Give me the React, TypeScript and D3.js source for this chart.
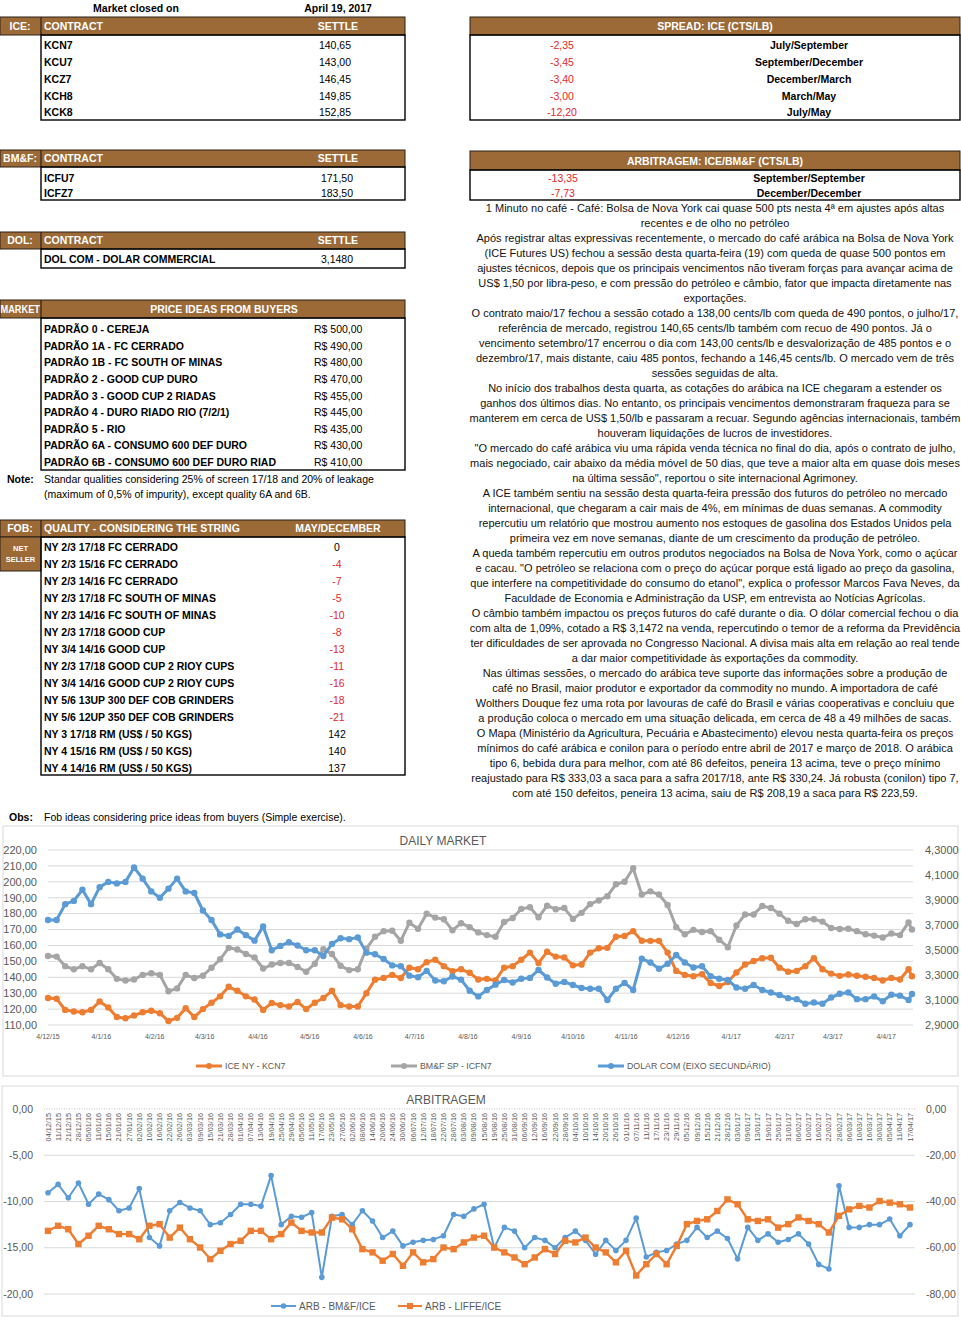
import React from "react";
import * as d3 from "d3";

const FONT = "'Liberation Sans', Arial, Helvetica, sans-serif";
const BROWN = "#9B6A37";
const RED = "#E3262B";
const AXIS_TXT = "#595959";
const GRID = "#D9D9D9";
const ORANGE = "#ED7D31";
const GRAY = "#A5A5A5";
const BLUE = "#5B9BD5";

const br = d3.formatLocale({ decimal: ",", thousands: ".", grouping: [3], currency: ["R$ ", ""], minus: "-" });
const parse = d3.utcParse("%Y-%m-%d");
const fmtDay = d3.utcFormat("%-d/%-m/%y");

// ---------- tables ----------
const iceContracts = ["KCN7", "KCU7", "KCZ7", "KCH8", "KCK8"];
const iceSettle = ["140,65", "143,00", "146,45", "149,85", "152,85"];
const spreadValues = ["-2,35", "-3,45", "-3,40", "-3,00", "-12,20"];
const spreadLabels = ["July/September", "September/December", "December/March", "March/May", "July/May"];
const bmfContracts = ["ICFU7", "ICFZ7"];
const bmfSettle = ["171,50", "183,50"];
const arbTableValues = ["-13,35", "-7,73"];
const arbTableLabels = ["September/September", "December/December"];
const dolContracts = ["DOL COM - DOLAR COMMERCIAL"];
const dolSettle = ["3,1480"];
const priceQualities = [
  "PADRÃO 0 - CEREJA",
  "PADRÃO 1A - FC CERRADO",
  "PADRÃO 1B - FC SOUTH OF MINAS",
  "PADRÃO 2 - GOOD CUP DURO",
  "PADRÃO 3 - GOOD CUP 2 RIADAS",
  "PADRÃO 4 - DURO RIADO RIO (7/2/1)",
  "PADRÃO 5 - RIO",
  "PADRÃO 6A - CONSUMO 600 DEF DURO",
  "PADRÃO 6B - CONSUMO 600 DEF DURO RIAD",
];
const priceValues = [500, 490, 480, 470, 455, 445, 435, 430, 410];
const fobQualities = [
  "NY 2/3 17/18 FC CERRADO",
  "NY 2/3 15/16 FC CERRADO",
  "NY 2/3 14/16 FC CERRADO",
  "NY 2/3 17/18 FC SOUTH OF MINAS",
  "NY 2/3 14/16 FC SOUTH OF MINAS",
  "NY 2/3 17/18 GOOD CUP",
  "NY 3/4 14/16 GOOD CUP",
  "NY 2/3 17/18 GOOD CUP 2 RIOY CUPS",
  "NY 3/4 14/16 GOOD CUP 2 RIOY CUPS",
  "NY 5/6 13UP 300 DEF COB GRINDERS",
  "NY 5/6 12UP 350 DEF COB GRINDERS",
  "NY 3 17/18 RM (US$ / 50 KGS)",
  "NY 4 15/16 RM (US$ / 50 KGS)",
  "NY 4 14/16 RM (US$ / 50 KGS)",
];
const fobValues = [0, -4, -7, -5, -10, -8, -13, -11, -16, -18, -21, 142, 140, 137];

const newsLines = [
  "1 Minuto no café - Café: Bolsa de Nova York cai quase 500 pts nesta 4ª em ajustes após altas",
  "recentes e de olho no petróleo",
  "Após registrar altas expressivas recentemente, o mercado do café arábica na Bolsa de Nova York",
  "(ICE Futures US) fechou a sessão desta quarta-feira (19) com queda de quase 500 pontos em",
  "ajustes técnicos, depois que os principais vencimentos não tiveram forças para avançar acima de",
  "US$ 1,50 por libra-peso, e com pressão do petróleo e câmbio, fator que impacta diretamente nas",
  "exportações.",
  "O contrato maio/17 fechou a sessão cotado a 138,00 cents/lb com queda de 490 pontos, o julho/17,",
  "referência de mercado, registrou 140,65 cents/lb também com recuo de 490 pontos. Já o",
  "vencimento setembro/17 encerrou o dia com 143,00 cents/lb e desvalorização de 485 pontos e o",
  "dezembro/17, mais distante, caiu 485 pontos, fechando a 146,45 cents/lb. O mercado vem de três",
  "sessões seguidas de alta.",
  "No início dos trabalhos desta quarta, as cotações do arábica na ICE chegaram a estender os",
  "ganhos dos últimos dias. No entanto, os principais vencimentos demonstraram fraqueza para se",
  "manterem em cerca de US$ 1,50/lb e passaram a recuar. Segundo agências internacionais, também",
  "houveram liquidações de lucros de investidores.",
  "\"O mercado do café arábica viu uma rápida venda técnica no final do dia, após o contrato de julho,",
  "mais negociado, cair abaixo da média móvel de 50 dias, que teve a maior alta em quase dois meses",
  "na última sessão\", reportou o site internacional Agrimoney.",
  "A ICE também sentiu na sessão desta quarta-feira pressão dos futuros do petróleo no mercado",
  "internacional, que chegaram a cair mais de 4%, em mínimas de duas semanas. A commodity",
  "repercutiu um relatório que mostrou aumento nos estoques de gasolina dos Estados Unidos pela",
  "primeira vez em nove semanas, diante de um crescimento da produção de petróleo.",
  "A queda também repercutiu em outros produtos negociados na Bolsa de Nova York, como o açúcar",
  "e cacau. \"O petróleo se relaciona com o preço do açúcar porque está ligado ao preço da gasolina,",
  "que interfere na competitividade do consumo do etanol\", explica o professor Marcos Fava Neves, da",
  "Faculdade de Economia e Administração da USP, em entrevista ao Notícias Agrícolas.",
  "O câmbio também impactou os preços futuros do café durante o dia. O dólar comercial fechou o dia",
  "com alta de 1,09%, cotado a R$ 3,1472 na venda, repercutindo o temor de a reforma da Previdência",
  "ter dificuldades de ser aprovada no Congresso Nacional. A divisa mais alta em relação ao real tende",
  "a dar maior competitividade às exportações da commodity.",
  "Nas últimas sessões, o mercado do arábica teve suporte das informações sobre a produção de",
  "café no Brasil, maior produtor e exportador da commodity no mundo. A importadora de café",
  "Wolthers Douque fez uma rota por lavouras de café do Brasil e várias cooperativas e concluiu que",
  "a produção coloca o mercado em uma situação delicada, em cerca de 48 a 49 milhões de sacas.",
  "O Mapa (Ministério da Agricultura, Pecuária e Abastecimento) elevou nesta quarta-feira os preços",
  "mínimos do café arábica e conilon para o período entre abril de 2017 e março de 2018. O arábica",
  "tipo 6, bebida dura para melhor, com até 86 defeitos, peneira 13 acima, teve o preço mínimo",
  "reajustado para R$ 333,03 a saca para a safra 2017/18, ante R$ 330,24. Já robusta (conilon) tipo 7,",
  "com até 150 defeitos, peneira 13 acima, saiu de R$ 208,19 a saca para R$ 223,59.",
];

// ---------- daily market ----------
const dailyDates = [
  "2015-12-04", "2015-12-09", "2015-12-14", "2015-12-19", "2015-12-24", "2015-12-29", "2016-01-03", "2016-01-08", "2016-01-13", "2016-01-18",
  "2016-01-23", "2016-01-28", "2016-02-02", "2016-02-07", "2016-02-12", "2016-02-17", "2016-02-22", "2016-02-27", "2016-03-03", "2016-03-08",
  "2016-03-13", "2016-03-18", "2016-03-23", "2016-03-28", "2016-04-02", "2016-04-07", "2016-04-12", "2016-04-17", "2016-04-22", "2016-04-27",
  "2016-05-02", "2016-05-07", "2016-05-12", "2016-05-17", "2016-05-22", "2016-05-27", "2016-06-01", "2016-06-06", "2016-06-11", "2016-06-16",
  "2016-06-21", "2016-06-26", "2016-07-01", "2016-07-06", "2016-07-11", "2016-07-16", "2016-07-21", "2016-07-26", "2016-07-31", "2016-08-05",
  "2016-08-10", "2016-08-15", "2016-08-20", "2016-08-25", "2016-08-30", "2016-09-04", "2016-09-09", "2016-09-14", "2016-09-19", "2016-09-24",
  "2016-09-29", "2016-10-04", "2016-10-09", "2016-10-14", "2016-10-19", "2016-10-24", "2016-10-29", "2016-11-03", "2016-11-08", "2016-11-13",
  "2016-11-18", "2016-11-23", "2016-11-28", "2016-12-03", "2016-12-08", "2016-12-13", "2016-12-18", "2016-12-23", "2016-12-28", "2017-01-02",
  "2017-01-07", "2017-01-12", "2017-01-17", "2017-01-22", "2017-01-27", "2017-02-01", "2017-02-06", "2017-02-11", "2017-02-16", "2017-02-21",
  "2017-02-26", "2017-03-03", "2017-03-08", "2017-03-13", "2017-03-18", "2017-03-23", "2017-03-28", "2017-04-02", "2017-04-07", "2017-04-12",
  "2017-04-17", "2017-04-19",
];
const iceNy = [
  127, 126.5, 119.5, 118.5, 118, 119.5, 124.8, 121, 115, 114.2,
  116, 118, 119, 117.4, 112.5, 114.5, 120.5, 115, 120, 124,
  128, 134, 131.5, 128, 126, 119.5, 123.8, 122.5, 121.6, 124.5,
  120, 124, 127, 131.5, 122.5, 121.6, 121.6, 130, 138.5, 139.6,
  141.5, 139.5, 146, 145, 149.5, 151, 147, 143.8, 145, 142.8,
  138.6, 139, 138, 146, 147, 151, 155.5, 149, 156, 153,
  152.5, 147.5, 148, 155.5, 158.2, 158.5, 165.5, 166, 169, 163,
  162.9, 162.9, 155.5, 144, 141.5, 140.7, 142, 136.4, 134.5, 137,
  143, 148, 150.2, 152, 152.3, 146, 143.5, 144, 147, 152,
  145, 142.3, 140.9, 141.7, 141, 140.3, 139.6, 138, 139.6, 138.6,
  145, 140.65,
];
const bmfSp = [
  153.4, 153, 147, 145, 147, 145, 149, 145, 139, 138,
  138.6, 141.5, 142.5, 141.5, 131.2, 133, 141.5, 139.5, 141, 146,
  151.3, 158.5, 157.5, 154.6, 152.5, 145.5, 148, 149, 149, 146.5,
  143.5, 148.5, 157.6, 154.6, 147.2, 144.5, 145, 158, 165.5, 169,
  169.2, 163, 174.3, 170.5, 180, 177.5, 176.5, 169.5, 174, 171.5,
  168.2, 166.5, 165.5, 174.7, 177.3, 183, 184, 177.7, 185, 182.8,
  183.5, 176.7, 180.5, 186, 188.3, 191, 198.5, 200, 208.5, 192,
  194, 192, 185.4, 171.5, 167, 169.8, 168.5, 169, 163.6, 158.9,
  172.5, 179.5, 179.5, 184.8, 183.5, 180, 175.5, 173.5, 176.5, 176.5,
  175, 171, 170.3, 170.5, 169, 167, 166.2, 165, 167.5, 166.5,
  174.5, 170,
];
const dolarCom = [
  3.74, 3.74, 3.867, 3.893, 3.982, 3.867, 4.003, 4.045, 4.033, 4.045,
  4.16, 4.071, 3.969, 3.918, 3.991, 4.071, 3.969, 3.956, 3.816, 3.74,
  3.625, 3.613, 3.664, 3.619, 3.575, 3.689, 3.498, 3.533, 3.562, 3.536,
  3.498, 3.498, 3.452, 3.549, 3.594, 3.587, 3.6, 3.479, 3.466, 3.428,
  3.377, 3.371, 3.295, 3.282, 3.333, 3.256, 3.25, 3.288, 3.263, 3.174,
  3.129, 3.18, 3.223, 3.26, 3.24, 3.27, 3.277, 3.34, 3.28, 3.23,
  3.245, 3.22, 3.196, 3.19, 3.19, 3.1, 3.19, 3.237, 3.18, 3.43,
  3.4, 3.35, 3.39, 3.46, 3.4, 3.36, 3.37, 3.29, 3.27, 3.26,
  3.2, 3.19, 3.22, 3.18, 3.16, 3.14, 3.115, 3.107, 3.07, 3.08,
  3.07, 3.12, 3.15, 3.16, 3.107, 3.107, 3.129, 3.09, 3.142, 3.135,
  3.1, 3.148,
];
const dailyTicks = [
  "2015-12-04", "2016-01-04", "2016-02-04", "2016-03-04", "2016-04-04", "2016-05-04", "2016-06-04", "2016-07-04", "2016-08-04",
  "2016-09-04", "2016-10-04", "2016-11-04", "2016-12-04", "2017-01-04", "2017-02-04", "2017-03-04", "2017-04-04",
];
const dailyLeftTicks = [110, 120, 130, 140, 150, 160, 170, 180, 190, 200, 210, 220];
const dailyRightTicks = [2.9, 3.1, 3.3, 3.5, 3.7, 3.9, 4.1, 4.3];

// ---------- arbitragem ----------
const arbDates = [
  "04/12/15", "11/12/15", "21/12/15", "28/12/15", "05/01/16", "11/01/16", "15/01/16", "21/01/16", "27/01/16", "02/02/16",
  "10/02/16", "16/02/16", "22/02/16", "26/02/16", "03/03/16", "09/03/16", "15/03/16", "21/03/16", "28/03/16", "01/04/16",
  "07/04/16", "13/04/16", "19/04/16", "25/04/16", "29/04/16", "05/05/16", "11/05/16", "17/05/16", "23/05/16", "27/05/16",
  "02/06/16", "08/06/16", "14/06/16", "20/06/16", "24/06/16", "30/06/16", "06/07/16", "12/07/16", "18/07/16", "22/07/16",
  "28/07/16", "03/08/16", "09/08/16", "15/08/16", "19/08/16", "25/08/16", "31/08/16", "06/09/16", "12/09/16", "16/09/16",
  "22/09/16", "28/09/16", "04/10/16", "10/10/16", "14/10/16", "20/10/16", "26/10/16", "01/11/16", "07/11/16", "11/11/16",
  "17/11/16", "23/11/16", "29/11/16", "05/12/16", "09/12/16", "15/12/16", "21/12/16", "28/12/16", "03/01/17", "09/01/17",
  "13/01/17", "19/01/17", "25/01/17", "31/01/17", "06/02/17", "10/02/17", "16/02/17", "22/02/17", "28/02/17", "06/03/17",
  "10/03/17", "16/03/17", "30/03/17", "05/04/17", "11/04/17", "17/04/17",
];
const arbBmfIce = [
  -9.05, -8.15, -9.6, -8.0, -10.3, -9.2, -9.8, -11.0, -10.7, -8.6,
  -13.9, -14.8, -11.0, -10.1, -10.7, -11.0, -12.5, -12.3, -11.4, -10.3,
  -10.3, -10.5, -7.2, -12.5, -11.6, -11.7, -11.2, -18.2, -11.6, -11.4,
  -12.5, -11.0, -12.1, -13.9, -13.2, -14.8, -14.4, -14.2, -14.1, -13.7,
  -11.4, -11.6, -10.8, -10.3, -15.0, -12.8, -13.2, -15.0, -13.9, -14.2,
  -15.0, -13.9, -13.2, -14.2, -15.7, -14.2, -15.3, -14.2, -11.8, -16.0,
  -15.5, -15.3, -14.6, -14.2, -12.8, -13.9, -13.2, -14.0, -16.2, -12.8,
  -14.2, -13.5, -14.4, -14.1, -13.5, -14.6, -16.8, -17.3, -8.3, -12.8,
  -12.8, -12.5, -12.5, -11.9, -13.7, -12.5,
];
const arbLiffeIce = [
  -52.7, -50.5, -52, -58.4, -54.8, -50.5, -52, -54.1, -54.1, -56.3,
  -50.5, -49.8, -55.6, -51.3, -56.3, -59.9, -64.9, -61.3, -58.4, -57,
  -52.7, -52.7, -56.3, -54.1, -49.1, -52.7, -53.4, -53.4, -47, -47.7,
  -52, -60.6, -62, -65.6, -62.7, -67.8, -62, -66.3, -64.9, -59.9,
  -60.6, -57.7, -55.6, -54.8, -59.9, -62, -64.2, -67.1, -64.2, -60.6,
  -62.7, -57, -57.7, -55.6, -59.9, -62, -66.3, -61.3, -72, -67.1,
  -62.7, -67.1, -59.2, -49.8, -48.4, -47.7, -44.1, -39.1, -41.2, -47.7,
  -48.4, -47.7, -51.3, -49.8, -46.9, -48.4, -49.8, -53.4, -46.2, -43.4,
  -41.9, -42.6, -39.8, -40.5, -41.2, -42.6,
];
const arbLeftTicks = [0, -5, -10, -15, -20];
const arbRightTicks = [0, -20, -40, -60, -80];

// ---------- helpers ----------
type TP = {
  x: number;
  y: number;
  a?: string;
  b?: boolean;
  c?: string;
  s?: number;
  len?: number;
  children?: React.ReactNode;
};
const T = ({ x, y, a = "start", b = false, c = "#000", s = 10.5, len, children }: TP) => (
  <text
    x={x}
    y={y}
    dy="0.35em"
    textAnchor={a}
    fontWeight={b ? "bold" : "normal"}
    fill={c}
    fontSize={s}
    textLength={len}
    lengthAdjust={len ? "spacingAndGlyphs" : undefined}
  >
    {children}
  </text>
);

const Band = ({ x, y, w, h, divider = true }: { x: number; y: number; w: number; h: number; divider?: boolean }) => (
  <g>
    <rect x={x} y={y} width={w} height={h} fill={BROWN} stroke="#2b2118" strokeWidth={1} />
    {divider && <line x1={41} x2={41} y1={y} y2={y + h} stroke="#2b2118" strokeWidth={1.2} />}
  </g>
);
const Box = ({ x, y, w, h }: { x: number; y: number; w: number; h: number }) => (
  <rect x={x} y={y} width={w} height={h} fill="none" stroke="#000" strokeWidth={1.4} />
);

function Tables() {
  const money = br.format("$.2f");
  return (
    <g>
      <T x={136} y={8} a="middle" b>Market closed on</T>
      <T x={338} y={8} a="middle" b>April 19, 2017</T>

      {/* ICE */}
      <Band x={0} y={17} w={405} h={18} />
      <T x={20} y={26} a="middle" b c="#fff">ICE:</T>
      <T x={44} y={26} b c="#fff">CONTRACT</T>
      <T x={338} y={26} a="middle" b c="#fff">SETTLE</T>
      <Box x={41} y={35} w={364} h={85} />
      {iceContracts.map((k, i) => (
        <g key={k}>
          <T x={44} y={45.5 + 16.8 * i} b>{k}</T>
          <T x={335} y={45.5 + 16.8 * i} a="middle">{iceSettle[i]}</T>
        </g>
      ))}

      {/* spread */}
      <Band x={470} y={17} w={490} h={18} divider={false} />
      <T x={715} y={26} a="middle" b c="#fff">SPREAD: ICE (CTS/LB)</T>
      <Box x={470} y={35} w={490} h={85} />
      {spreadLabels.map((l, i) => (
        <g key={l}>
          <T x={562} y={45.5 + 16.8 * i} a="middle" c={RED}>{spreadValues[i]}</T>
          <T x={809} y={45.5 + 16.8 * i} a="middle" b>{l}</T>
        </g>
      ))}

      {/* BM&F */}
      <Band x={0} y={150} w={405} h={17} />
      <T x={20} y={158.5} a="middle" b c="#fff">BM&amp;F:</T>
      <T x={44} y={158.5} b c="#fff">CONTRACT</T>
      <T x={338} y={158.5} a="middle" b c="#fff">SETTLE</T>
      <Box x={41} y={167} w={364} h={33} />
      {bmfContracts.map((k, i) => (
        <g key={k}>
          <T x={44} y={178 + 15 * i} b>{k}</T>
          <T x={337} y={178 + 15 * i} a="middle">{bmfSettle[i]}</T>
        </g>
      ))}

      {/* arbitragem table */}
      <Band x={470} y={151} w={490} h={19} divider={false} />
      <T x={715} y={161} a="middle" b c="#fff">ARBITRAGEM: ICE/BM&amp;F (CTS/LB)</T>
      <Box x={470} y={170} w={490} h={30} />
      {arbTableLabels.map((l, i) => (
        <g key={l}>
          <T x={563} y={178 + 15 * i} a="middle" c={RED}>{arbTableValues[i]}</T>
          <T x={809} y={178 + 15 * i} a="middle" b>{l}</T>
        </g>
      ))}

      {/* DOL */}
      <Band x={0} y={232} w={405} h={17} />
      <T x={20} y={240.5} a="middle" b c="#fff">DOL:</T>
      <T x={44} y={240.5} b c="#fff">CONTRACT</T>
      <T x={338} y={240.5} a="middle" b c="#fff">SETTLE</T>
      <Box x={41} y={249} w={364} h={19} />
      {dolContracts.map((k, i) => (
        <g key={k}>
          <T x={44} y={259.5} b>{k}</T>
          <T x={337} y={259.5} a="middle">{dolSettle[i]}</T>
        </g>
      ))}

      {/* price ideas */}
      <Band x={0} y={300} w={405} h={18} />
      <T x={0.5} y={309} b c="#fff" s={10} len={39.5}>MARKET</T>
      <T x={224} y={309} a="middle" b c="#fff">PRICE IDEAS FROM BUYERS</T>
      <Box x={41} y={318} w={364} h={152} />
      {priceQualities.map((q, i) => (
        <g key={q}>
          <T x={44} y={329.5 + 16.6 * i} b>{q}</T>
          <T x={314} y={329.5 + 16.6 * i}>{money(priceValues[i])}</T>
        </g>
      ))}
      <T x={7} y={479} b>Note:</T>
      <T x={44} y={479}>Standar qualities considering 25% of screen 17/18 and 20% of leakage</T>
      <T x={44} y={494}>(maximum of 0,5% of impurity), except quality 6A and 6B.</T>

      {/* FOB */}
      <Band x={0} y={520} w={405} h={17} />
      <T x={20} y={528.5} a="middle" b c="#fff">FOB:</T>
      <T x={44} y={528.5} b c="#fff">QUALITY - CONSIDERING THE STRING</T>
      <T x={338} y={528.5} a="middle" b c="#fff">MAY/DECEMBER</T>
      <rect x={0} y={537} width={41} height={34} fill={BROWN} stroke="#2b2118" strokeWidth={1} />
      <T x={20.5} y={548} a="middle" b c="#fff" s={7.5}>NET</T>
      <T x={20.5} y={559} a="middle" b c="#fff" s={7.5}>SELLER</T>
      <Box x={41} y={537} w={364} h={238} />
      {fobQualities.map((q, i) => (
        <g key={q}>
          <T x={44} y={547.3 + 17 * i} b>{q}</T>
          <T x={337} y={547.3 + 17 * i} a="middle" c={fobValues[i] < 0 ? RED : "#000"}>
            {br.format("d")(fobValues[i])}
          </T>
        </g>
      ))}
      <T x={9} y={817} b>Obs:</T>
      <T x={44} y={817}>Fob ideas considering price ideas from buyers (Simple exercise).</T>
    </g>
  );
}

function News() {
  return (
    <g>
      {newsLines.map((l, i) => (
        <T key={i} x={715} y={208 + 15 * i} a="middle" s={11} c="#111">
          {l}
        </T>
      ))}
    </g>
  );
}

function DailyMarket() {
  const x = d3.scaleUtc().domain([parse("2015-12-04")!, parse("2017-04-19")!]).range([48, 912]);
  const yL = d3.scaleLinear().domain([110, 220]).range([1025, 850]);
  const yR = d3.scaleLinear().domain([2.9, 4.3]).range([1025, 850]);
  const dates = dailyDates.map((d) => parse(d)!);
  const series = [
    { name: "ICE NY - KCN7", values: iceNy, color: ORANGE, y: yL, lx: 196 },
    { name: "BM&F SP - ICFN7", values: bmfSp, color: GRAY, y: yL, lx: 391 },
    { name: "DOLAR COM (EIXO SECUNDÁRIO)", values: dolarCom, color: BLUE, y: yR, lx: 598 },
  ];
  const fL = br.format(".2f");
  const fR = br.format(".4f");
  return (
    <g>
      <rect x={3} y={826} width={955} height={250} fill="#fff" stroke={GRID} strokeWidth={1} />
      <text x={443} y={841} dy="0.35em" textAnchor="middle" fontSize={12} fill={AXIS_TXT}>DAILY MARKET</text>
      {dailyLeftTicks.map((t) => (
        <g key={t}>
          <line x1={48} x2={913} y1={yL(t)} y2={yL(t)} stroke={GRID} strokeWidth={1} />
          <text x={37} y={yL(t)} dy="0.35em" textAnchor="end" fontSize={11} fill={AXIS_TXT}>{fL(t)}</text>
        </g>
      ))}
      {dailyRightTicks.map((t) => (
        <text key={t} x={925} y={yR(t)} dy="0.35em" fontSize={11} fill={AXIS_TXT}>{fR(t)}</text>
      ))}
      {dailyTicks.map((t) => (
        <text key={t} x={x(parse(t)!)} y={1037} dy="0.35em" textAnchor="middle" fontSize={7} fill={AXIS_TXT}>
          {fmtDay(parse(t)!)}
        </text>
      ))}
      {series.map((s) => {
        const line = d3.line<number>().x((_, i) => x(dates[i])).y((d) => s.y(d));
        return (
          <g key={s.name}>
            <path d={line(s.values) || ""} fill="none" stroke={s.color} strokeWidth={3} strokeLinejoin="round" />
            {s.values.map((v, i) => (
              <circle key={i} cx={x(dates[i])} cy={s.y(v)} r={3.2} fill={s.color} />
            ))}
          </g>
        );
      })}
      {series.map((s) => (
        <g key={s.name}>
          <line x1={s.lx} x2={s.lx + 26} y1={1066} y2={1066} stroke={s.color} strokeWidth={3} />
          <circle cx={s.lx + 13} cy={1066} r={3} fill={s.color} />
          <text x={s.lx + 29} y={1066} dy="0.35em" fontSize={8.8} fill={AXIS_TXT}>{s.name}</text>
        </g>
      ))}
    </g>
  );
}

function Arbitragem() {
  const x = d3.scalePoint<string>().domain(arbDates).range([48, 910]);
  const yL = d3.scaleLinear().domain([-20, 0]).range([1294, 1109]);
  const yR = d3.scaleLinear().domain([-80, 0]).range([1294, 1109]);
  const fA = br.format(".2f");
  const lineL = d3.line<number>().x((_, i) => x(arbDates[i])!).y((d) => yL(d));
  const lineR = d3.line<number>().x((_, i) => x(arbDates[i])!).y((d) => yR(d));
  return (
    <g>
      <rect x={2} y={1086} width={956} height={230} fill="#fff" stroke={GRID} strokeWidth={1} />
      <text x={446} y={1100} dy="0.35em" textAnchor="middle" fontSize={12} fill={AXIS_TXT}>ARBITRAGEM</text>
      {arbLeftTicks.map((t) => (
        <g key={t}>
          <line
            x1={44}
            x2={915}
            y1={yL(t)}
            y2={yL(t)}
            stroke={t === 0 ? "#BFBFBF" : GRID}
            strokeWidth={1}
            strokeDasharray={t === 0 ? "1 1.5" : undefined}
          />
          <text x={33} y={yL(t)} dy="0.35em" textAnchor="end" fontSize={10.5} fill={AXIS_TXT}>{fA(t)}</text>
        </g>
      ))}
      {arbRightTicks.map((t) => (
        <text key={t} x={926} y={yR(t)} dy="0.35em" fontSize={10.5} fill={AXIS_TXT}>{fA(t)}</text>
      ))}
      {arbDates.map((d) => (
        <text
          key={d}
          transform={`translate(${x(d)! + 2.5},1113) rotate(-90)`}
          textAnchor="end"
          fontSize={7.3}
          fill={AXIS_TXT}
        >
          {d}
        </text>
      ))}
      <path d={lineL(arbBmfIce) || ""} fill="none" stroke={BLUE} strokeWidth={2} strokeLinejoin="round" />
      {arbBmfIce.map((v, i) => (
        <circle key={i} cx={x(arbDates[i])} cy={yL(v)} r={2.8} fill={BLUE} />
      ))}
      <path d={lineR(arbLiffeIce) || ""} fill="none" stroke={ORANGE} strokeWidth={2.4} strokeLinejoin="round" />
      {arbLiffeIce.map((v, i) => (
        <rect key={i} x={x(arbDates[i])! - 3.2} y={yR(v) - 3.2} width={6.4} height={6.4} fill={ORANGE} />
      ))}
      {/* legend */}
      <line x1={271} x2={296} y1={1306} y2={1306} stroke={BLUE} strokeWidth={2} />
      <circle cx={283.5} cy={1306} r={2.8} fill={BLUE} />
      <text x={299} y={1306} dy="0.35em" fontSize={10} fill={AXIS_TXT}>ARB - BM&amp;F/ICE</text>
      <line x1={398} x2={422} y1={1306} y2={1306} stroke={ORANGE} strokeWidth={2} />
      <rect x={407} y={1303} width={6} height={6} fill={ORANGE} />
      <text x={425} y={1306} dy="0.35em" fontSize={10} fill={AXIS_TXT}>ARB - LIFFE/ICE</text>
    </g>
  );
}

export default function App() {
  return (
    <svg
      width={961}
      height={1320}
      viewBox="0 0 961 1320"
      style={{ position: "absolute", left: 0, top: 0, background: "#fff" }}
      fontFamily={FONT}
    >
      <rect x={0} y={0} width={961} height={1320} fill="#fff" />
      <Tables />
      <News />
      <DailyMarket />
      <Arbitragem />
    </svg>
  );
}
